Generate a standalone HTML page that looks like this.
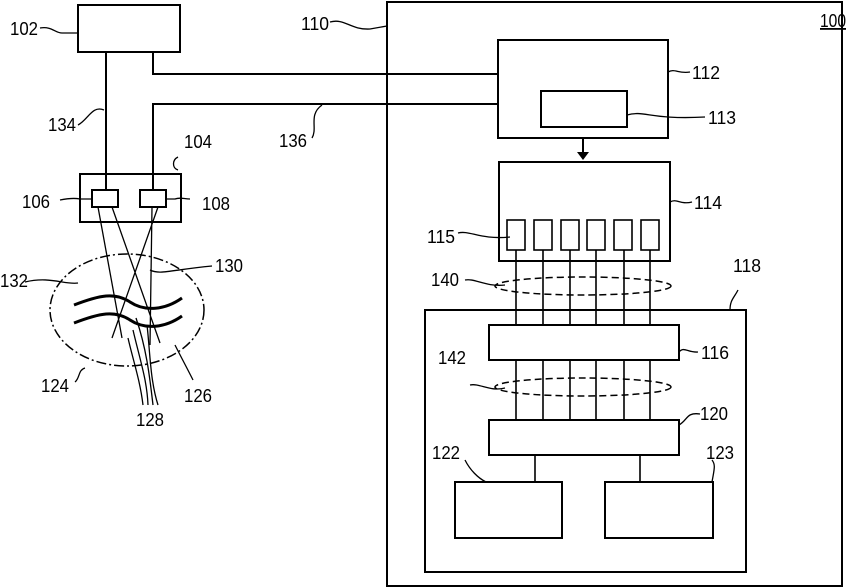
<!DOCTYPE html>
<html><head><meta charset="utf-8"><style>
html,body{margin:0;padding:0;background:#fff;}
svg{display:block;}
text{font-family:"Liberation Sans",sans-serif;font-size:18px;fill:#000;}
</style></head><body>
<svg width="848" height="588" viewBox="0 0 848 588" xmlns="http://www.w3.org/2000/svg">
<g fill="none" stroke="#000" stroke-width="2">
<rect x="78" y="5" width="102" height="47"/>
<path d="M106 52V190M153 52V74H498M153 190V104H498"/>
<rect x="80" y="174" width="101" height="48"/>
<rect x="92" y="190" width="26" height="17"/>
<rect x="140" y="190" width="26" height="17"/>
<rect x="387" y="2" width="455" height="584"/>
<rect x="498" y="40" width="170" height="98"/>
<rect x="541" y="91" width="86" height="36"/>
<path d="M583 138V158"/>
<rect x="499" y="162" width="171" height="99"/>
<rect x="507" y="220" width="18" height="30" stroke-width="1.6"/>
<rect x="534" y="220" width="18" height="30" stroke-width="1.6"/>
<rect x="561" y="220" width="18" height="30" stroke-width="1.6"/>
<rect x="587" y="220" width="18" height="30" stroke-width="1.6"/>
<rect x="614" y="220" width="18" height="30" stroke-width="1.6"/>
<rect x="641" y="220" width="18" height="30" stroke-width="1.6"/>
<path d="M516 250V420M543 250V420M570 250V420M596 250V420M624 250V420M650 250V420" stroke-width="1.6"/>
<rect x="425" y="310" width="321" height="262"/>
<rect x="489" y="325" width="190" height="35" fill="#fff"/>
<rect x="489" y="420" width="190" height="35" fill="#fff"/>
<path d="M535 455V482M640 455V482" stroke-width="1.6"/>
<rect x="455" y="482" width="107" height="56"/>
<rect x="605" y="482" width="108" height="56"/>
</g>
<path d="M577 152L583 160L589 152Z" fill="#000"/>
<g fill="none" stroke="#000" stroke-width="1.5" stroke-dasharray="7,4">
<ellipse cx="583" cy="286" rx="88" ry="9"/>
<ellipse cx="583" cy="387" rx="88" ry="9"/>
</g>
<ellipse cx="127" cy="310" rx="77" ry="56" fill="none" stroke="#000" stroke-width="1.5" stroke-dasharray="10,3,2,3"/>
<g fill="none" stroke="#000" stroke-width="1.3">
<path d="M98 207L122 338M112 207L160 343M158 207L112 338M152 207L150 345"/>
<path d="M128 338C133 360 140 380 143 405M133 330C140 360 147 380 148 405M136 318C147 350 150 380 153 405M147 325C150 350 150 380 158 405"/>
</g>
<g fill="none" stroke="#000" stroke-width="3">
<path d="M74 305C100 295 115 292 130 302S165 310 182 298"/>
<path d="M74 323C100 313 115 310 130 320S165 328 182 316"/>
</g>
<g fill="none" stroke="#000" stroke-width="1.3">
<path d="M40 28C52 26 55 33 62 33H78"/>
<path d="M78 125C88 120 92 105 104 110"/>
<path d="M178 157C172 160 172 168 178 170"/>
<path d="M60 200C70 198 75 198 80 199H92"/>
<path d="M166 199H175C180 197 184 199 190 199"/>
<path d="M330 22C345 18 350 30 370 29L387 26"/>
<path d="M312 138C318 128 308 115 322 105"/>
<path d="M668 72C675 68 678 74 690 72"/>
<path d="M627 115C645 110 650 120 705 117"/>
<path d="M670 202C677 198 680 205 692 202"/>
<path d="M458 233C470 230 480 240 510 237"/>
<path d="M465 280C475 278 485 287 505 285"/>
<path d="M470 385C480 383 490 392 505 388"/>
<path d="M730 310C730 300 734 298 738 290"/>
<path d="M679 352C684 346 688 353 698 352"/>
<path d="M679 425C688 420 686 412 700 414"/>
<path d="M25 282C50 276 65 285 78 283"/>
<path d="M150 270C160 275 170 270 212 266"/>
<path d="M75 382C80 378 78 370 85 368"/>
<path d="M193 380C188 370 180 355 175 345"/>
<path d="M465 460C470 470 478 478 486 482"/>
<path d="M712 482C714 470 716 465 712 460"/>
</g>
<g style="font-stretch:condensed">
<text x="10" y="35" textLength="28" lengthAdjust="spacingAndGlyphs">102</text>
<text x="48" y="131" textLength="28" lengthAdjust="spacingAndGlyphs">134</text>
<text x="184" y="148" textLength="28" lengthAdjust="spacingAndGlyphs">104</text>
<text x="22" y="208" textLength="28" lengthAdjust="spacingAndGlyphs">106</text>
<text x="202" y="210" textLength="28" lengthAdjust="spacingAndGlyphs">108</text>
<text x="0" y="287" textLength="28" lengthAdjust="spacingAndGlyphs">132</text>
<text x="215" y="272" textLength="28" lengthAdjust="spacingAndGlyphs">130</text>
<text x="41" y="392" textLength="28" lengthAdjust="spacingAndGlyphs">124</text>
<text x="184" y="402" textLength="28" lengthAdjust="spacingAndGlyphs">126</text>
<text x="136" y="426" textLength="28" lengthAdjust="spacingAndGlyphs">128</text>
<text x="301" y="30" textLength="28" lengthAdjust="spacingAndGlyphs">110</text>
<text x="279" y="147" textLength="28" lengthAdjust="spacingAndGlyphs">136</text>
<text x="820" y="27" textLength="26" lengthAdjust="spacingAndGlyphs" style="text-decoration:underline">100</text>
<text x="692" y="79" textLength="28" lengthAdjust="spacingAndGlyphs">112</text>
<text x="708" y="124" textLength="28" lengthAdjust="spacingAndGlyphs">113</text>
<text x="694" y="209" textLength="28" lengthAdjust="spacingAndGlyphs">114</text>
<text x="427" y="243" textLength="28" lengthAdjust="spacingAndGlyphs">115</text>
<text x="431" y="286" textLength="28" lengthAdjust="spacingAndGlyphs">140</text>
<text x="733" y="272" textLength="28" lengthAdjust="spacingAndGlyphs">118</text>
<text x="701" y="359" textLength="28" lengthAdjust="spacingAndGlyphs">116</text>
<text x="438" y="364" textLength="28" lengthAdjust="spacingAndGlyphs">142</text>
<text x="700" y="420" textLength="28" lengthAdjust="spacingAndGlyphs">120</text>
<text x="432" y="459" textLength="28" lengthAdjust="spacingAndGlyphs">122</text>
<text x="706" y="459" textLength="28" lengthAdjust="spacingAndGlyphs">123</text>
</g>
</svg>
</body></html>
